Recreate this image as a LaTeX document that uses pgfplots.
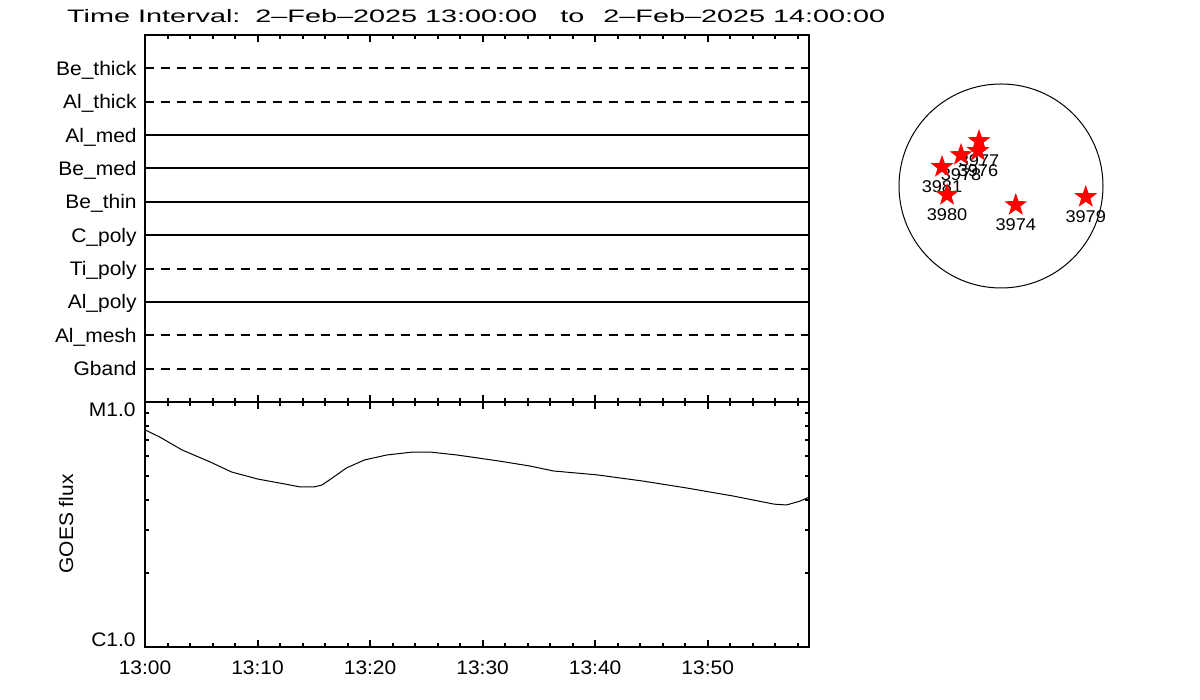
\documentclass[border=0pt]{standalone}
\usepackage{fontspec}
\setmainfont{Liberation Sans}[FakeStretch=1.07]
\newfontfamily\titlefont{Liberation Sans}[FakeStretch=1.6]
\usepackage{pgfplots}
\pgfplotsset{compat=1.18}
\usepackage{pgfplotstable}

\pgfdeclareplotmark{fstar}{%
  \pgfpathmoveto{\pgfpointpolar{90}{\pgfplotmarksize}}%
  \pgfpathlineto{\pgfpointpolar{126}{0.4\pgfplotmarksize}}%
  \pgfpathlineto{\pgfpointpolar{162}{\pgfplotmarksize}}%
  \pgfpathlineto{\pgfpointpolar{198}{0.4\pgfplotmarksize}}%
  \pgfpathlineto{\pgfpointpolar{234}{\pgfplotmarksize}}%
  \pgfpathlineto{\pgfpointpolar{270}{0.4\pgfplotmarksize}}%
  \pgfpathlineto{\pgfpointpolar{306}{\pgfplotmarksize}}%
  \pgfpathlineto{\pgfpointpolar{342}{0.4\pgfplotmarksize}}%
  \pgfpathlineto{\pgfpointpolar{18}{\pgfplotmarksize}}%
  \pgfpathlineto{\pgfpointpolar{54}{0.4\pgfplotmarksize}}%
  \pgfpathclose
  \pgfusepathqfill
}

\pgfplotstableread{
t flux
0.0 7.70e-6
1.3 7.20e-6
3.3 6.37e-6
5.8 5.69e-6
7.7 5.18e-6
10.0 4.85e-6
12.4 4.63e-6
13.8 4.50e-6
15.0 4.50e-6
15.7 4.58e-6
16.4 4.81e-6
17.9 5.38e-6
19.5 5.80e-6
21.5 6.08e-6
23.8 6.25e-6
25.3 6.25e-6
27.7 6.08e-6
31.5 5.74e-6
34.2 5.48e-6
36.3 5.23e-6
40.2 5.04e-6
44.2 4.76e-6
48.1 4.46e-6
52.3 4.13e-6
55.9 3.83e-6
57.0 3.80e-6
58.2 3.94e-6
59.0 4.09e-6
}\goesdata

\pgfplotstableread{
x y lab
-210 430 3977
-220 335 3976
-382 296 3978
-564 182 3981
-516 -86 3980
141 -182 3974
810 -105 3979
}\ardata

\begin{document}
\begin{tikzpicture}
\path[use as bounding box] (0,0) rectangle (600pt,350pt);

\tikzset{ttl/.style={anchor=base west, inner sep=0pt, font=\titlefont\fontsize{9}{10}\selectfont}}
\node[ttl] at (33.35pt,338.65pt) {Time Interval:};
\node[ttl] at (127.5pt,338.65pt) {2–Feb–2025 13:00:00};
\node[ttl] at (280pt,338.65pt) {to};
\node[ttl] at (301.5pt,338.65pt) {2–Feb–2025 14:00:00};

\pgfplotsset{
  common/.style={
    scale only axis, width=332pt,
    xmin=0, xmax=59,
    xtick={0,10,...,50}, minor xtick={0,2,...,58},
    axis line style={line width=1pt},
    every tick/.style={black, line width=1pt},
    major tick length=3.5pt, minor tick length=2.2pt,
    tick align=inside,
    font=\fontsize{9.8}{11}\selectfont,
  },
  solidl/.style={black, line width=1pt, mark=none},
  dashl/.style={black, line width=1pt, mark=none, dash pattern=on 4.5pt off 3.5pt},
}

\begin{axis}[common,
  height=183.5pt, at={(72.5pt,149pt)}, anchor=south west,
  ymin=0, ymax=11,
  xticklabels={},
  ytick={1,...,10},
  yticklabels={Gband,Al\_mesh,Al\_poly,Ti\_poly,C\_poly,Be\_thin,Be\_med,Al\_med,Al\_thick,Be\_thick},
  major y tick style={draw=none},
  yticklabel style={anchor=base east, inner sep=0pt, xshift=-4pt, yshift=-3.5pt},
]
\addplot[dashl] coordinates {(0,10) (59,10)};
\addplot[dashl] coordinates {(0,9) (59,9)};
\addplot[solidl] coordinates {(0,8) (59,8)};
\addplot[solidl] coordinates {(0,7) (59,7)};
\addplot[solidl] coordinates {(0,6) (59,6)};
\addplot[solidl] coordinates {(0,5) (59,5)};
\addplot[dashl] coordinates {(0,4) (59,4)};
\addplot[solidl] coordinates {(0,3) (59,3)};
\addplot[dashl] coordinates {(0,2) (59,2)};
\addplot[dashl] coordinates {(0,1) (59,1)};
\end{axis}

\begin{axis}[common,
  height=122.5pt, at={(72.5pt,26.5pt)}, anchor=south west,
  ymode=log, ymin=1e-6, ymax=1e-5,
  xticklabels={13:00,13:10,13:20,13:30,13:40,13:50},
  xticklabel style={anchor=north, inner sep=0pt, yshift=-6.5pt},
  ytick={1e-6,1e-5}, yticklabels={,},
  minor ytick={2e-6,3e-6,4e-6,5e-6,6e-6,7e-6,8e-6,9e-6},
]
\addplot[black, line width=0.5pt, mark=none] table[x=t, y=flux] {\goesdata};
\end{axis}

\node[anchor=north east, inner sep=0pt, font=\fontsize{9.8}{11}\selectfont] at (68pt,149pt) {M1.0};
\node[anchor=south east, inner sep=0pt, font=\fontsize{9.8}{11}\selectfont] at (68pt,26.5pt) {C1.0};
\node[rotate=90, inner sep=0pt, font=\fontsize{9.8}{11}\selectfont] at (33pt,88pt) {GOES flux};

\begin{axis}[
  scale only axis, width=115.08pt, height=115.08pt,
  at={(500.5pt,257pt)}, anchor=center,
  xmin=-1100, xmax=1100, ymin=-1100, ymax=1100,
  hide axis, clip=false,
]
\draw[black, line width=0.5pt] (axis cs:0,0) circle[radius=975];
\addplot[only marks, mark=fstar, mark size=6pt, red,
  mark options={fill=red},
  nodes near coords, point meta=explicit symbolic,
  every node near coord/.append style={black, anchor=center, yshift=-9.75pt, inner sep=0pt, font=\fontsize{8.5}{10}\selectfont},
] table[x=x, y=y, meta=lab] {\ardata};
\end{axis}
\end{tikzpicture}
\end{document}
